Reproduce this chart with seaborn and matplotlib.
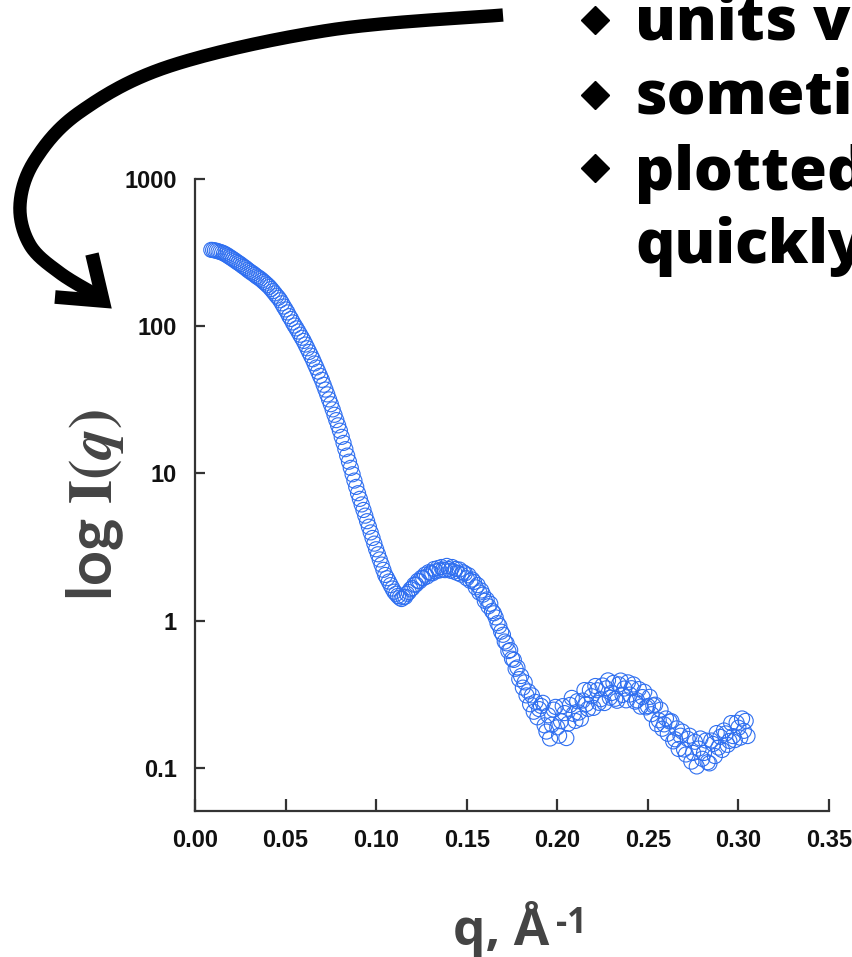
import numpy as np
import pandas as pd
import matplotlib
matplotlib.use("Agg")
import matplotlib.pyplot as plt
from matplotlib.lines import Line2D
from matplotlib.ticker import NullLocator
import seaborn as sns

# ---------------- data ----------------
# low-q shoulder
q_seg1 = [0.009, 0.010, 0.011, 0.012, 0.013, 0.014, 0.015, 0.016, 0.017, 0.018,
          0.019, 0.020, 0.021, 0.022, 0.023, 0.024, 0.025, 0.026, 0.027, 0.028,
          0.029, 0.030, 0.031, 0.032, 0.033, 0.034, 0.035, 0.036, 0.037, 0.038,
          0.039, 0.040, 0.041, 0.042, 0.043, 0.044, 0.045, 0.046, 0.047, 0.048,
          0.049]
i_seg1 = [330, 329, 327, 325, 322, 319, 316, 312, 307, 302,
          296, 291, 285, 280, 274, 269, 264, 258, 253, 248,
          242, 237, 232, 228, 223, 218, 214, 210, 205, 200,
          195, 190, 185, 179, 173, 167, 161, 156, 150, 143,
          136]
# steep fall to the first minimum
q_seg2 = [0.050, 0.051, 0.052, 0.053, 0.054, 0.055, 0.056, 0.057, 0.058, 0.059,
          0.060, 0.061, 0.062, 0.063, 0.064, 0.065, 0.066, 0.067, 0.068, 0.069,
          0.070, 0.071, 0.072, 0.073, 0.074, 0.075, 0.076, 0.077, 0.078, 0.079,
          0.080, 0.081, 0.082, 0.083, 0.084, 0.085, 0.086, 0.087, 0.088, 0.089,
          0.090, 0.091, 0.092, 0.093, 0.094, 0.095, 0.096, 0.097, 0.098, 0.099,
          0.100, 0.101, 0.102, 0.103, 0.104, 0.105, 0.106, 0.107, 0.108, 0.109,
          0.110, 0.111, 0.112]
i_seg2 = [130, 124, 117, 112, 106, 101, 96.6, 92.0, 87.5, 83.4,
          79.4, 75.0, 70.8, 66.8, 63.1, 59.6, 55.8, 52.4, 49.1, 46.0,
          43.2, 40.0, 37.1, 34.4, 31.8, 29.5, 27.2, 25.0, 23.0, 21.2,
          19.5, 17.7, 16.1, 14.6, 13.2, 12.0, 10.9, 9.86, 8.93, 8.09,
          7.33, 6.71, 6.15, 5.64, 5.16, 4.73, 4.34, 3.97, 3.64, 3.33,
          3.05, 2.82, 2.60, 2.40, 2.21, 2.04, 1.94, 1.84, 1.74, 1.65,
          1.57, 1.52, 1.47]
# second maximum
q_seg3 = [0.113, 0.114, 0.115, 0.116, 0.117, 0.118, 0.119, 0.120, 0.121, 0.122,
          0.123, 0.124, 0.125, 0.126, 0.127, 0.128, 0.129, 0.130, 0.131, 0.132,
          0.133, 0.134, 0.135, 0.136, 0.137, 0.138, 0.139, 0.140, 0.141, 0.142,
          0.143, 0.144, 0.145, 0.146, 0.147, 0.148, 0.149, 0.150, 0.151, 0.152,
          0.153, 0.154, 0.155, 0.156, 0.157, 0.158]
i_seg3 = [1.43, 1.40, 1.44, 1.45, 1.52, 1.56, 1.63, 1.66, 1.75, 1.76,
          1.86, 1.85, 1.95, 1.94, 2.05, 1.99, 2.13, 2.10, 2.09, 2.24,
          2.16, 2.27, 2.19, 2.31, 2.22, 2.20, 2.35, 2.24, 2.18, 2.31,
          2.15, 2.24, 2.10, 2.22, 2.05, 2.13, 2.09, 1.94, 2.03, 1.86,
          1.90, 1.83, 1.68, 1.74, 1.55, 1.60]
# second fall
q_seg4 = [0.159, 0.160, 0.161, 0.162, 0.163, 0.164, 0.165, 0.166, 0.167, 0.168,
          0.169, 0.170, 0.171, 0.172, 0.173, 0.174, 0.175, 0.176, 0.177, 0.178,
          0.179, 0.180, 0.181, 0.182, 0.183, 0.184, 0.185, 0.186, 0.187, 0.188,
          0.189, 0.190]
i_seg4 = [1.50, 1.36, 1.39, 1.25, 1.30, 1.16, 1.12, 1.05, 0.96, 0.92,
          0.84, 0.80, 0.72, 0.70, 0.62, 0.63, 0.55, 0.54, 0.47, 0.48,
          0.40, 0.42, 0.35, 0.38, 0.31, 0.33, 0.27, 0.31, 0.24, 0.28,
          0.22, 0.25]
# noisy high-q tail
q_seg5 = [0.191, 0.192, 0.193, 0.194, 0.195, 0.196, 0.197, 0.198, 0.199, 0.200,
          0.201, 0.202, 0.203, 0.204, 0.205, 0.206, 0.207, 0.208, 0.209, 0.210,
          0.211, 0.212, 0.213, 0.214, 0.215, 0.216, 0.217, 0.218, 0.219, 0.220,
          0.221, 0.222, 0.223, 0.224, 0.225, 0.226, 0.227, 0.228, 0.229, 0.230,
          0.231, 0.232, 0.233, 0.234, 0.235, 0.236, 0.237, 0.238, 0.239, 0.240,
          0.241, 0.242, 0.243, 0.244, 0.245, 0.246, 0.247, 0.248, 0.249, 0.250,
          0.251, 0.252, 0.253, 0.254, 0.255, 0.256, 0.257, 0.258, 0.259, 0.260,
          0.261, 0.262, 0.263, 0.264, 0.265, 0.266, 0.267, 0.268, 0.269, 0.270,
          0.271, 0.272, 0.273, 0.274, 0.275, 0.276, 0.277, 0.278, 0.279, 0.280,
          0.281, 0.282, 0.283, 0.284, 0.285, 0.286, 0.287, 0.288, 0.289, 0.290,
          0.291, 0.292, 0.293, 0.294, 0.295, 0.296, 0.297, 0.298, 0.299, 0.300,
          0.301, 0.302, 0.303, 0.304, 0.305]
i_seg5 = [0.263, 0.276, 0.194, 0.176, 0.227, 0.158, 0.196, 0.248, 0.259, 0.188,
          0.165, 0.207, 0.262, 0.235, 0.159, 0.199, 0.267, 0.298, 0.232, 0.208,
          0.283, 0.237, 0.215, 0.286, 0.337, 0.271, 0.251, 0.337, 0.306, 0.255,
          0.359, 0.336, 0.276, 0.292, 0.362, 0.275, 0.346, 0.392, 0.299, 0.322,
          0.377, 0.294, 0.285, 0.368, 0.391, 0.312, 0.345, 0.287, 0.380, 0.314,
          0.347, 0.368, 0.281, 0.287, 0.342, 0.260, 0.302, 0.328, 0.257, 0.262,
          0.303, 0.231, 0.265, 0.268, 0.198, 0.210, 0.248, 0.184, 0.197, 0.216,
          0.170, 0.206, 0.207, 0.151, 0.156, 0.185, 0.134, 0.165, 0.176, 0.133,
          0.123, 0.157, 0.165, 0.110, 0.126, 0.150, 0.102, 0.135, 0.158, 0.115,
          0.126, 0.153, 0.109, 0.107, 0.153, 0.145, 0.120, 0.172, 0.137, 0.162,
          0.132, 0.179, 0.171, 0.143, 0.152, 0.201, 0.164, 0.154, 0.202, 0.187,
          0.160, 0.216, 0.178, 0.208, 0.164]

x_ticks = [0.00, 0.05, 0.10, 0.15, 0.20, 0.25, 0.30, 0.35]
x_tick_labels = ["0.00", "0.05", "0.10", "0.15", "0.20", "0.25", "0.30", "0.35"]
y_ticks = [0.1, 1, 10, 100, 1000]
y_tick_labels = ["0.1", "1", "10", "100", "1000"]

bullet_lines = ["units vary", "sometimes", "plotted", "quickly"]

# ---------------- figure ----------------
W, H = 853, 957
sns.set_style("white")
plt.rcParams["font.family"] = ["Liberation Sans", "DejaVu Sans"]
plt.rcParams["mathtext.fontset"] = "stix"

fig = plt.figure(figsize=(W / 100, H / 100), dpi=100)
fig.patch.set_facecolor("white")


def fx(x):
    return np.asarray(x) / W


def fy(y):
    return 1 - np.asarray(y) / H


ax = fig.add_axes([fx(195), fy(811), (829 - 195) / W, (811 - 179) / H])

df = pd.DataFrame({
    "q": q_seg1 + q_seg2 + q_seg3 + q_seg4 + q_seg5,
    "I": i_seg1 + i_seg2 + i_seg3 + i_seg4 + i_seg5,
})
blue = "#2f6ff0"
sns.scatterplot(data=df, x="q", y="I", ax=ax, marker="o", s=118,
                facecolor="none", edgecolor=blue, linewidth=0.8,
                legend=False, zorder=3)

ax.set_yscale("log")
ax.set_xlim(0, 0.35)
ax.set_ylim(0.0508, 1000)
ax.set_xticks(x_ticks)
ax.set_xticklabels(x_tick_labels)
ax.set_yticks(y_ticks)
ax.set_yticklabels(y_tick_labels)
ax.yaxis.set_minor_locator(NullLocator())
ax.xaxis.set_minor_locator(NullLocator())
ax.set_xlabel("")
ax.set_ylabel("")

for s in ["top", "right"]:
    ax.spines[s].set_visible(False)
for s in ["left", "bottom"]:
    ax.spines[s].set_color("#333333")
    ax.spines[s].set_linewidth(1.6)

ax.tick_params(axis="both", which="major", direction="in", width=1.6,
               color="#333333", labelsize=17, labelcolor="#111111", pad=13,
               bottom=True, left=True, top=False, right=False)
ax.tick_params(axis="x", length=8.5)
ax.tick_params(axis="y", length=7.5)
for lab in ax.get_xticklabels() + ax.get_yticklabels():
    lab.set_fontweight("bold")

# y label: "log I(q)"
fig.text(fx(95), fy(505), r"log $\mathbf{I(}\mathbfit{q}\mathbf{)}$",
         rotation=90, ha="center", va="center", fontsize=44,
         fontweight="bold", family=["Lato", "DejaVu Sans"], color="#444444")

# x label: "q, Å-1"
xl = fig.text(fx(453), fy(945), "q, Å", ha="left", va="baseline", fontsize=37,
              fontweight="bold", family=["Open Sans", "Lato", "DejaVu Sans"],
              color="#444444")
renderer = fig.canvas.get_renderer()
bb = xl.get_window_extent(renderer)
fig.text((bb.x1 + 7) / W, fy(933), "-1", ha="left", va="baseline", fontsize=25,
         fontweight="bold", family=["Open Sans", "Lato", "DejaVu Sans"],
         color="#444444")

# bullet text (cut by the right edge, as on the slide)
baselines = [40, 113, 190, 263]
for txt, b in zip(bullet_lines, baselines):
    fig.text(fx(635), fy(b), txt, ha="left", va="baseline", fontsize=44,
             fontweight="heavy", family=["Open Sans", "Lato", "DejaVu Sans"],
             color="black")
for by in [20, 95, 168]:
    fig.add_artist(Line2D([fx(595)], [fy(by)], marker="D", markersize=14,
                          color="black", transform=fig.transFigure))

# curved arrow (Catmull-Rom through waypoints, pixel coords)
way = np.array([(503, 15), (503, 15), (330, 30), (170, 66), (80, 112), (35, 160),
                (20, 205), (30, 245), (60, 273), (98, 296), (98, 296)], float)
pts = []
for k in range(1, len(way) - 2):
    p0, p1, p2, p3 = way[k - 1], way[k], way[k + 1], way[k + 2]
    for t in np.linspace(0, 1, 30):
        t2, t3 = t * t, t * t * t
        pts.append(0.5 * ((2 * p1) + (-p0 + p2) * t +
                          (2 * p0 - 5 * p1 + 4 * p2 - p3) * t2 +
                          (-p0 + 3 * p1 - 3 * p2 + p3) * t3))
pts = np.array(pts)
fig.add_artist(Line2D(fx(pts[:, 0]), fy(pts[:, 1]), color="black", lw=9.6,
                      solid_capstyle="butt", solid_joinstyle="round",
                      transform=fig.transFigure))
head = np.array([(55, 297), (103, 301), (92, 254)], float)
fig.add_artist(Line2D(fx(head[:, 0]), fy(head[:, 1]), color="black", lw=9.8,
                      solid_capstyle="butt", solid_joinstyle="miter",
                      transform=fig.transFigure))

fig.savefig("out.png", dpi=100, facecolor="white")
